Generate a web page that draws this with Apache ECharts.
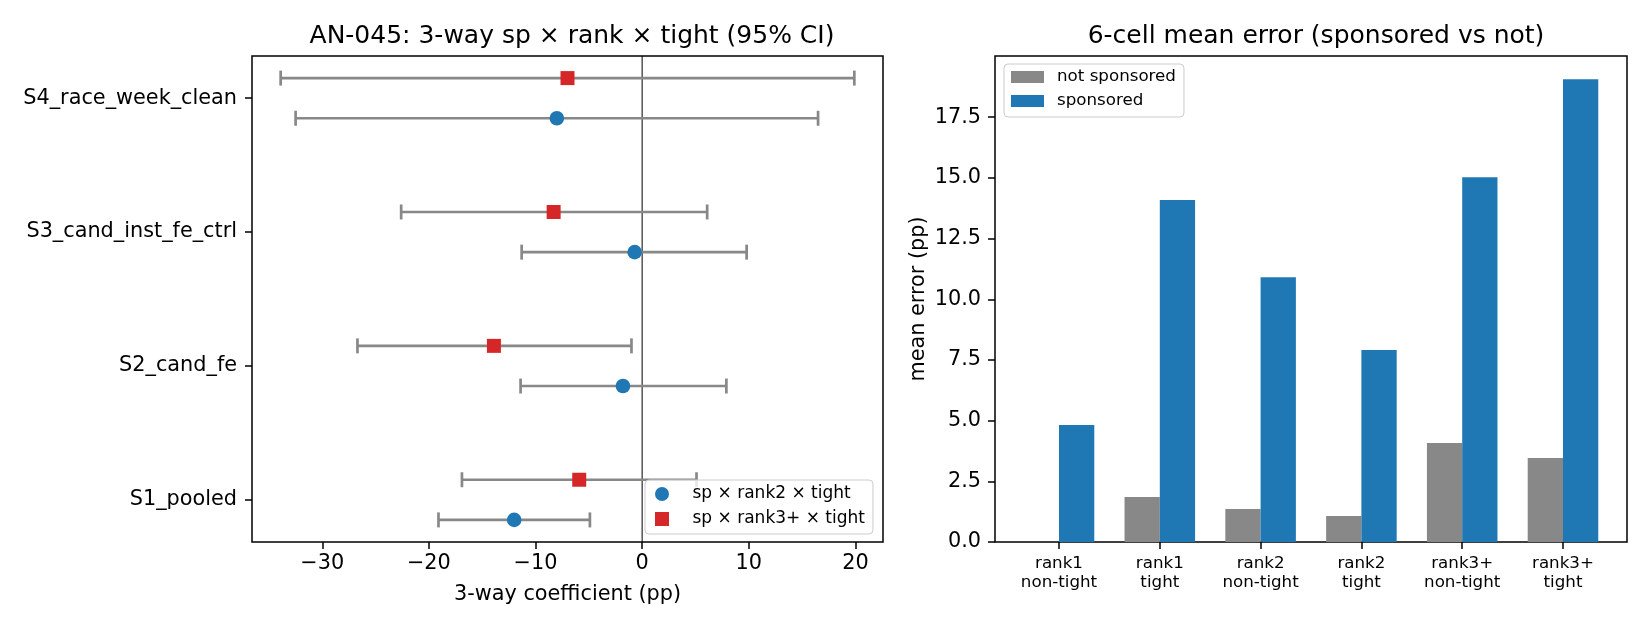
<!DOCTYPE html>
<html>
<head>
<meta charset="UTF-8">
<title>AN-045 3-way</title>
<script src="https://cdn.jsdelivr.net/npm/echarts@6/dist/echarts.min.js"></script>
<style>
html, body { margin: 0; padding: 0; background: #fff; }
#main { width: 1650px; height: 630px; }
</style>
</head>
<body>
<div id="main"></div>
<script>
// left panel: 3-way coefficients per spec (95% CI)
var specNames = ['S1_pooled', 'S2_cand_fe', 'S3_cand_inst_fe_ctrl', 'S4_race_week_clean'];
var rank2Coef = [-12.0, -1.8, -0.7, -8.0];
var rank2Lo   = [-19.1, -11.4, -11.3, -32.5];
var rank2Hi   = [-4.9, 7.9, 9.8, 16.5];
var rank3Coef = [-5.9, -13.9, -8.3, -7.0];
var rank3Lo   = [-16.9, -26.7, -22.6, -33.9];
var rank3Hi   = [5.1, -1.0, 6.1, 19.9];
var xTicks = [-30, -20, -10, 0, 10, 20];

// right panel: 6-cell mean error
var cellNames = ['rank1\nnon-tight', 'rank1\ntight', 'rank2\nnon-tight', 'rank2\ntight', 'rank3+\nnon-tight', 'rank3+\ntight'];
var notSponsored = [0, 1.85, 1.36, 1.07, 4.08, 3.46];
var sponsored    = [4.82, 14.09, 10.91, 7.91, 15.03, 19.07];
var barTicks = [0, 2.5, 5, 7.5, 10, 12.5, 15, 17.5];

var FONT = 'DejaVu Sans';
var offset = 0.15;   // vertical dodge of the two coefficients
var barW = 0.35;     // bar width in category units

// matplotlib-like autoscale (5% margins)
var allX = rank2Lo.concat(rank2Hi, rank3Lo, rank3Hi);
var xLo = Math.min.apply(null, allX), xHi = Math.max.apply(null, allX);
var xPad = 0.05 * (xHi - xLo);
var yLo = -offset, yHi = specNames.length - 1 + offset;
var yPad = 0.05 * (yHi - yLo);
var bLo = -barW, bHi = cellNames.length - 1 + barW;
var bPad = 0.05 * (bHi - bLo);
var vMax = 1.05 * Math.max.apply(null, sponsored.concat(notSponsored));

var rank2Data = rank2Coef.map(function (v, i) { return [v, rank2Lo[i], rank2Hi[i], i - offset]; });
var rank3Data = rank3Coef.map(function (v, i) { return [v, rank3Lo[i], rank3Hi[i], i + offset]; });
var graySeries = notSponsored.map(function (v, i) { return [i - barW / 2, v]; });
var blueSeries = sponsored.map(function (v, i) { return [i + barW / 2, v]; });

function minus(v) { return String(v).replace('-', '\u2212'); }

function errRender(shape) {
    return function (params, api) {
        var y = api.value(3);
        var c = api.coord([api.value(0), y]);
        var l = api.coord([api.value(1), y]);
        var h = api.coord([api.value(2), y]);
        var cap = 7.5;
        var gray = { stroke: '#888888', lineWidth: 2.7 };
        var kids = [
            { type: 'line', shape: { x1: l[0], y1: l[1], x2: h[0], y2: h[1] }, style: gray },
            { type: 'line', shape: { x1: l[0], y1: l[1] - cap, x2: l[0], y2: l[1] + cap }, style: gray },
            { type: 'line', shape: { x1: h[0], y1: h[1] - cap, x2: h[0], y2: h[1] + cap }, style: gray }
        ];
        if (shape === 'circle') {
            kids.push({ type: 'circle', shape: { cx: c[0], cy: c[1], r: 7.3 }, style: { fill: api.visual('color') } });
        } else {
            kids.push({ type: 'rect', shape: { x: c[0] - 7, y: c[1] - 7, width: 14, height: 14 }, style: { fill: api.visual('color') } });
        }
        return { type: 'group', children: kids };
    };
}

function barRender(params, api) {
    var x = api.value(0), v = api.value(1);
    var p0 = api.coord([x - barW / 2, v]);
    var p1 = api.coord([x + barW / 2, 0]);
    return {
        type: 'rect',
        shape: { x: p0[0], y: p0[1], width: p1[0] - p0[0], height: p1[1] - p0[1] },
        style: { fill: api.visual('color') }
    };
}

function ticks(vals) {
    return { show: true, length: 7, lineStyle: { color: '#000', width: 1.5 }, customValues: vals };
}
var noLine = { show: false, onZero: false };

var chart = echarts.init(document.getElementById('main'), null, { renderer: 'canvas' });

var option = {
    animation: false,
    backgroundColor: '#fff',
    textStyle: { fontFamily: FONT },
    title: [
        { text: 'AN-045: 3-way sp \u00d7 rank \u00d7 tight (95% CI)', left: 567, top: 19, textAlign: 'center',
          textStyle: { fontFamily: FONT, fontSize: 25, fontWeight: 'normal', color: '#000' } },
        { text: '6-cell mean error (sponsored vs not)', left: 1311, top: 19, textAlign: 'center',
          textStyle: { fontFamily: FONT, fontSize: 25, fontWeight: 'normal', color: '#000' } }
    ],
    legend: [
        {
            data: [{ name: 'sp \u00d7 rank2 \u00d7 tight', icon: 'circle' },
                   { name: 'sp \u00d7 rank3+ \u00d7 tight', icon: 'path://M0,0L10,0L10,10L0,10Z' }],
            orient: 'vertical', left: 645, top: 480,
            itemWidth: 25, itemHeight: 14, itemGap: 5, symbolKeepAspect: true,
            padding: [4, 8, 5, 10],
            backgroundColor: 'rgba(255,255,255,0.8)', borderColor: '#cccccc', borderWidth: 1, borderRadius: 4,
            textStyle: { fontFamily: FONT, fontSize: 17, color: '#000', lineHeight: 20, padding: [0, 0, 0, 13] }
        },
        {
            data: [{ name: 'not sponsored', icon: 'rect' }, { name: 'sponsored', icon: 'rect' }],
            orient: 'vertical', left: 1004, top: 64,
            itemWidth: 33, itemHeight: 12, itemGap: 4,
            padding: [3, 8, 6, 7],
            backgroundColor: 'rgba(255,255,255,0.8)', borderColor: '#cccccc', borderWidth: 1, borderRadius: 4,
            textStyle: { fontFamily: FONT, fontSize: 16.7, color: '#000', lineHeight: 20, padding: [0, 0, 0, 8] }
        }
    ],
    grid: [
        { left: 252, top: 56, right: 767, bottom: 88, show: true, borderColor: '#000', borderWidth: 1.5, backgroundColor: 'transparent' },
        { left: 995, top: 56, right: 23, bottom: 88, show: true, borderColor: '#000', borderWidth: 1.5, backgroundColor: 'transparent' }
    ],
    xAxis: [
        {
            type: 'value', gridIndex: 0, min: xLo - xPad, max: xHi + xPad,
            name: '3-way coefficient (pp)', nameLocation: 'middle', nameGap: 42,
            nameTextStyle: { fontFamily: FONT, fontSize: 20.8, color: '#000' },
            axisLine: noLine, splitLine: { show: false }, axisTick: ticks(xTicks),
            axisLabel: { customValues: xTicks, margin: 11, fontFamily: FONT, fontSize: 20.8, color: '#000', formatter: minus }
        },
        {
            type: 'value', gridIndex: 1, min: bLo - bPad, max: bHi + bPad,
            axisLine: noLine, splitLine: { show: false }, axisTick: ticks([0, 1, 2, 3, 4, 5]),
            axisLabel: { customValues: [0, 1, 2, 3, 4, 5], margin: 12, fontFamily: FONT, fontSize: 16.7, lineHeight: 19, color: '#000',
                         formatter: function (v) { return cellNames[Math.round(v)]; } }
        }
    ],
    yAxis: [
        {
            type: 'value', gridIndex: 0, min: yLo - yPad, max: yHi + yPad,
            axisLine: noLine, splitLine: { show: false }, axisTick: ticks([0, 1, 2, 3]),
            axisLabel: { customValues: [0, 1, 2, 3], margin: 15, fontFamily: FONT, fontSize: 20.8, color: '#000',
                         formatter: function (v) { return specNames[Math.round(v)]; } }
        },
        {
            type: 'value', gridIndex: 1, min: 0, max: vMax,
            name: 'mean error (pp)', nameLocation: 'middle', nameGap: 66, nameRotate: 90,
            nameTextStyle: { fontFamily: FONT, fontSize: 20.8, color: '#000' },
            axisLine: noLine, splitLine: { show: false }, axisTick: ticks(barTicks),
            axisLabel: { customValues: barTicks, margin: 14, fontFamily: FONT, fontSize: 20.8, color: '#000',
                         formatter: function (v) { return v.toFixed(1); } }
        }
    ],
    series: [
        {
            name: 'zero', type: 'line', xAxisIndex: 0, yAxisIndex: 0, z: 1,
            data: [[0, yLo - yPad], [0, yHi + yPad]], symbol: 'none', silent: true,
            lineStyle: { color: '#000', width: 1 }
        },
        {
            name: 'sp \u00d7 rank2 \u00d7 tight', type: 'custom', xAxisIndex: 0, yAxisIndex: 0, z: 3,
            itemStyle: { color: '#1f77b4' }, encode: { x: [0, 1, 2], y: 3 },
            renderItem: errRender('circle'), data: rank2Data
        },
        {
            name: 'sp \u00d7 rank3+ \u00d7 tight', type: 'custom', xAxisIndex: 0, yAxisIndex: 0, z: 3,
            itemStyle: { color: '#d62728' }, encode: { x: [0, 1, 2], y: 3 },
            renderItem: errRender('rect'), data: rank3Data
        },
        {
            name: 'not sponsored', type: 'custom', xAxisIndex: 1, yAxisIndex: 1, z: 2,
            itemStyle: { color: '#888888' }, encode: { x: 0, y: 1 },
            renderItem: barRender, data: graySeries
        },
        {
            name: 'sponsored', type: 'custom', xAxisIndex: 1, yAxisIndex: 1, z: 2,
            itemStyle: { color: '#1f77b4' }, encode: { x: 0, y: 1 },
            renderItem: barRender, data: blueSeries
        }
    ]
};

chart.setOption(option);
</script>
</body>
</html>
